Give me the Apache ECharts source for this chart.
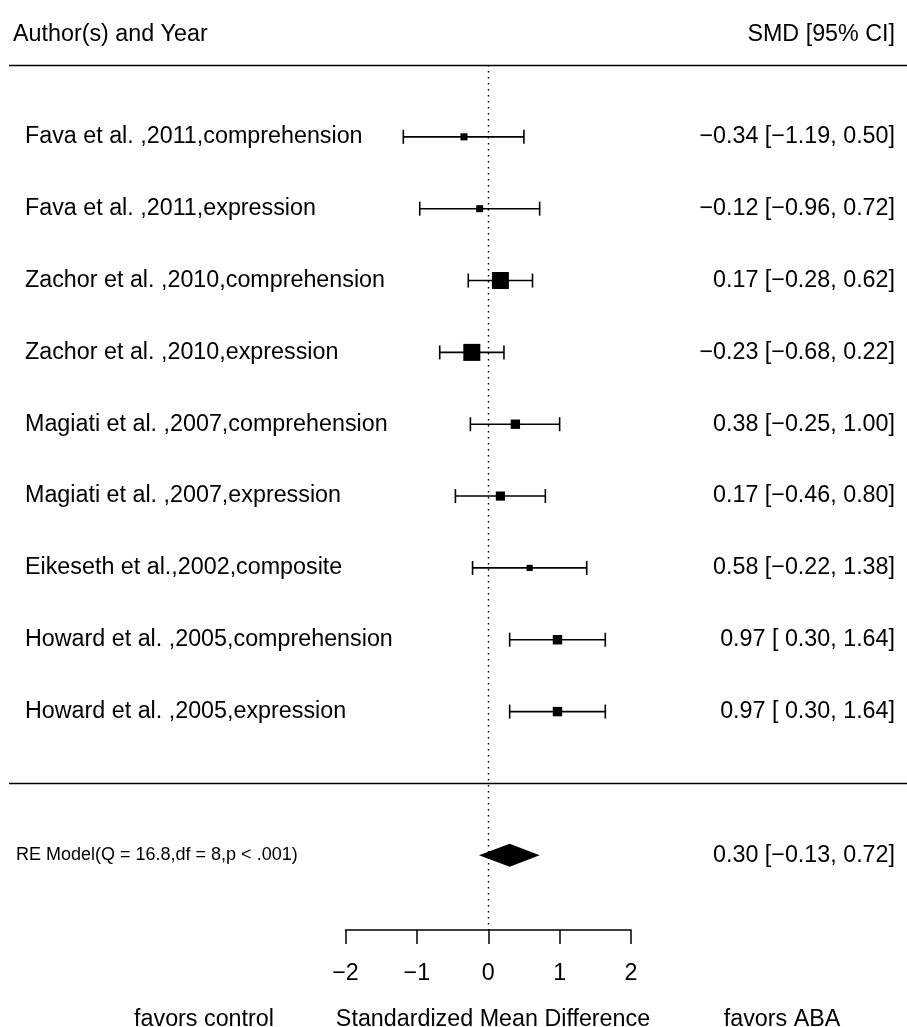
<!DOCTYPE html>
<html><head><meta charset="utf-8">
<script src="https://cdn.jsdelivr.net/npm/echarts@6/dist/echarts.min.js"></script>
<style>html,body{margin:0;padding:0;background:#fff}#c{width:907px;height:1027px}</style>
</head><body><div id="c"></div>
<script>
// ---- data ----
const studies = [
  'Fava et al. ,2011,comprehension',
  'Fava et al. ,2011,expression',
  'Zachor et al. ,2010,comprehension',
  'Zachor et al. ,2010,expression',
  'Magiati et al. ,2007,comprehension',
  'Magiati et al. ,2007,expression',
  'Eikeseth et al.,2002,composite',
  'Howard et al. ,2005,comprehension',
  'Howard et al. ,2005,expression'
];
const estimates = [-0.34, -0.12, 0.17, -0.23, 0.38, 0.17, 0.58, 0.97, 0.97];
const ciLower   = [-1.19, -0.96, -0.28, -0.68, -0.25, -0.46, -0.22, 0.30, 0.30];
const ciUpper   = [ 0.50,  0.72,  0.62,  0.22,  1.00,  0.80,  1.38, 1.64, 1.64];
const weights   = [7.7, 7.6, 18.6, 18.6, 10.2, 10.0, 6.7, 10.3, 10.3];
const summaryLabel = 'RE Model(Q = 16.8,df = 8,p < .001)';
const summaryEstimate = [0.30];
const summaryLower = [-0.13];
const summaryUpper = [0.72];
const studyRows = [0, 1, 2, 3, 4, 5, 6, 7, 8];
const summaryRow = 10;
const separatorRows = [-1, 9];
const xTickLabels = ['−2', '−1', '0', '1', '2'];
const headerLeft = 'Author(s) and Year';
const headerRight = 'SMD [95% CI]';
const footerLabels = ['favors control', 'Standardized Mean Difference', 'favors ABA'];

// ---- helpers ----
const FONT = 'Liberation Sans, Arial, Helvetica, sans-serif';
const FS = 23.3;
function fmt(v) { return (v < 0 ? '−' : '') + Math.abs(v).toFixed(2); }
function fmtLo(v) { return (v < 0 ? '' : ' ') + fmt(v); }
function ciText(e, l, u) { return fmt(e) + ' [' + fmtLo(l) + ', ' + fmt(u) + ']'; }
function rowOf(v) { const r = Math.round(v); return Math.abs(v - r) < 1e-6 ? r : null; }

const studyData = studyRows.map((r, i) => [r, estimates[i], ciLower[i], ciUpper[i], weights[i]]);
const summaryData = [[summaryRow, summaryEstimate[0], summaryLower[0], summaryUpper[0]]];
const sizePerWeight = 0.915;

const yBase = {
  type: 'value', min: -1, max: 11.04, interval: 1, inverse: true,
  axisLine: { show: false }, axisTick: { show: false }, splitLine: { show: false }
};

const chart = echarts.init(document.getElementById('c'), null, { renderer: 'canvas' });
chart.setOption({
  animation: false,
  backgroundColor: '#fff',
  grid: { left: 345.5, right: 276, top: 65, bottom: 97, containLabel: false },
  xAxis: {
    type: 'value', min: -2, max: 2, interval: 1, position: 'bottom',
    axisLine: { show: true, onZero: false, lineStyle: { color: '#000', width: 1.5 } },
    axisTick: { show: true, length: 14, lineStyle: { color: '#000', width: 1.5 } },
    splitLine: { show: false },
    axisLabel: {
      margin: 32, color: '#000', fontSize: FS, fontFamily: FONT,
      formatter: v => { const i = Math.round(v) + 2; return xTickLabels[i] ?? ''; }
    }
  },
  yAxis: [
    Object.assign({}, yBase, {
      position: 'left',
      axisLabel: {
        margin: 320.5, align: 'left', color: '#000', fontSize: FS, fontFamily: FONT,
        formatter: v => { const r = rowOf(v); const i = studyRows.indexOf(r); return i >= 0 ? studies[i] : ''; }
      }
    }),
    Object.assign({}, yBase, {
      position: 'left',
      axisLabel: {
        margin: 329.5, align: 'left', color: '#000', fontSize: 18, fontFamily: FONT,
        formatter: v => rowOf(v) === summaryRow ? summaryLabel : ''
      }
    }),
    Object.assign({}, yBase, {
      position: 'right',
      axisLabel: {
        margin: 264, align: 'right', color: '#000', fontSize: FS, fontFamily: FONT,
        formatter: v => {
          const r = rowOf(v);
          const i = studyRows.indexOf(r);
          if (i >= 0) return ciText(estimates[i], ciLower[i], ciUpper[i]);
          if (r === summaryRow) return ciText(summaryEstimate[0], summaryLower[0], summaryUpper[0]);
          return '';
        }
      }
    })
  ],
  series: [
    {
      type: 'custom', name: 'separators', yAxisIndex: 0, clip: false, silent: true,
      data: separatorRows.map(r => [0, r]),
      renderItem: (params, api) => {
        const y = Math.round(api.coord([0, api.value(1)])[1]) + 0.5;
        return { type: 'line', shape: { x1: 9, y1: y, x2: api.getWidth(), y2: y },
                 style: { stroke: '#000', lineWidth: 1.6 } };
      },
      markLine: {
        silent: true, symbol: 'none', label: { show: false },
        lineStyle: { color: '#000', width: 1.4, type: [1.5, 4.5] },
        data: [{ xAxis: 0 }]
      }
    },
    {
      type: 'custom', name: 'studies', yAxisIndex: 0, clip: false, silent: true,
      data: studyData,
      renderItem: (params, api) => {
        const row = api.value(0);
        const pE = api.coord([api.value(1), row]);
        const pL = api.coord([api.value(2), row]);
        const pU = api.coord([api.value(3), row]);
        const s = api.value(4) * sizePerWeight;
        const y = pE[1];
        const cap = 7;
        const st = { stroke: '#000', lineWidth: 1.6 };
        return {
          type: 'group',
          children: [
            { type: 'line', shape: { x1: pL[0], y1: y, x2: pU[0], y2: y }, style: st },
            { type: 'line', shape: { x1: pL[0], y1: y - cap, x2: pL[0], y2: y + cap }, style: st },
            { type: 'line', shape: { x1: pU[0], y1: y - cap, x2: pU[0], y2: y + cap }, style: st },
            { type: 'rect', shape: { x: pE[0] - s / 2, y: y - s / 2, width: s, height: s }, style: { fill: '#000' } }
          ]
        };
      }
    },
    {
      type: 'custom', name: 'summary', yAxisIndex: 0, clip: false, silent: true,
      data: summaryData,
      renderItem: (params, api) => {
        const row = api.value(0);
        const pE = api.coord([api.value(1), row]);
        const pL = api.coord([api.value(2), row]);
        const pU = api.coord([api.value(3), row]);
        const h = 11.5;
        return {
          type: 'polygon',
          shape: { points: [[pL[0], pE[1]], [pE[0], pE[1] - h], [pU[0], pE[1]], [pE[0], pE[1] + h]] },
          style: { fill: '#000' }
        };
      }
    }
  ],
  graphic: [
    { type: 'text', left: 13, top: 23, style: { text: headerLeft, font: FS + 'px ' + FONT, fill: '#000' } },
    { type: 'text', right: 12, top: 23, style: { text: headerRight, font: FS + 'px ' + FONT, fill: '#000' } },
    { type: 'text', x: 204, y: 1020, style: { text: footerLabels[0], font: FS + 'px ' + FONT, fill: '#000', align: 'center', verticalAlign: 'middle' } },
    { type: 'text', x: 493, y: 1020, style: { text: footerLabels[1], font: FS + 'px ' + FONT, fill: '#000', align: 'center', verticalAlign: 'middle' } },
    { type: 'text', x: 782, y: 1020, style: { text: footerLabels[2], font: FS + 'px ' + FONT, fill: '#000', align: 'center', verticalAlign: 'middle' } }
  ]
});
</script>
</body></html>
